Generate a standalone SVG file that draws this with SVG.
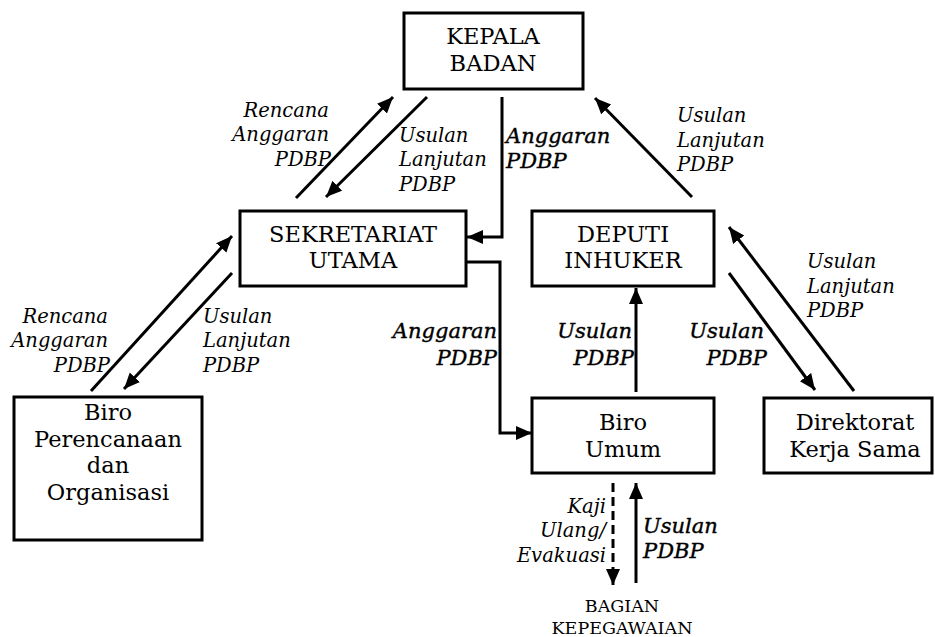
<svg xmlns="http://www.w3.org/2000/svg" width="935" height="637" viewBox="0 0 935 637">
<style>
.box{fill:#fff;stroke:#000;stroke-width:3}
.nt{font-family:"DejaVu Serif","Liberation Serif",serif;font-size:22.5px;fill:#000;text-anchor:middle}
.lb{font-family:"DejaVu Serif","Liberation Serif",serif;font-size:19.5px;font-style:italic;fill:#000}
.bl{font-family:"DejaVu Serif","Liberation Serif",serif;font-size:21px;font-style:italic;fill:#000;stroke:#000;stroke-width:0.4}
.sm{font-family:"DejaVu Serif","Liberation Serif",serif;font-size:17.5px;fill:#000;text-anchor:middle}
.ln{fill:none;stroke:#000;stroke-width:3}
.ds{fill:none;stroke:#000;stroke-width:3;stroke-dasharray:9 5}
.r{text-anchor:end}
</style>
<defs>
<marker id="ah" markerUnits="userSpaceOnUse" markerWidth="18" markerHeight="16" refX="16" refY="7" orient="auto">
<path d="M0,0 L16,7 L0,14 Z" fill="#000"/>
</marker>
</defs>
<rect width="935" height="637" fill="#fff"/>
<g id="kepala">
<rect class="box" x="404" y="13" width="179" height="76"/>
<text class="nt" x="493" y="44">KEPALA</text>
<text class="nt" x="493" y="71">BADAN</text>
</g>
<g id="sekretariat">
<rect class="box" x="240" y="211" width="226" height="75"/>
<text class="nt" x="353" y="242">SEKRETARIAT</text>
<text class="nt" x="353" y="268">UTAMA</text>
</g>
<g id="deputi">
<rect class="box" x="532" y="211" width="182" height="75"/>
<text class="nt" x="623" y="242">DEPUTI</text>
<text class="nt" x="623" y="268">INHUKER</text>
</g>
<g id="biro-umum">
<rect class="box" x="532" y="398" width="182" height="75"/>
<text class="nt" x="623" y="430">Biro</text>
<text class="nt" x="623" y="457">Umum</text>
</g>
<g id="direktorat">
<rect class="box" x="764" y="398" width="168" height="75"/>
<text class="nt" x="855" y="430">Direktorat</text>
<text class="nt" x="855" y="457">Kerja Sama</text>
</g>
<g id="biro-perencanaan">
<rect class="box" x="14" y="397" width="188" height="143"/>
<text class="nt" x="108" y="420">Biro</text>
<text class="nt" x="108" y="447">Perencanaan</text>
<text class="nt" x="108" y="473">dan</text>
<text class="nt" x="108" y="500">Organisasi</text>
</g>
<g id="bagian-kepegawaian">
<text class="sm" x="622" y="612">BAGIAN</text>
<text class="sm" x="622" y="634">KEPEGAWAIAN</text>
</g>
<g id="connectors">
<line class="ln" x1="296" y1="198" x2="393" y2="97" marker-end="url(#ah)"/>
<line class="ln" x1="427" y1="97" x2="326" y2="197" marker-end="url(#ah)"/>
<polyline class="ln" points="502,97 502,237 467,237" marker-end="url(#ah)"/>
<polyline class="ln" points="466,262 500,262 500,433 532,433" marker-end="url(#ah)"/>
<line class="ln" x1="91" y1="391" x2="232" y2="236" marker-end="url(#ah)"/>
<line class="ln" x1="232" y1="273" x2="124" y2="389" marker-end="url(#ah)"/>
<line class="ln" x1="692" y1="197" x2="595" y2="98" marker-end="url(#ah)"/>
<line class="ln" x1="636" y1="392" x2="636" y2="288" marker-end="url(#ah)"/>
<line class="ln" x1="729" y1="273" x2="815" y2="390" marker-end="url(#ah)"/>
<line class="ln" x1="854" y1="391" x2="729" y2="227" marker-end="url(#ah)"/>
<line class="ds" x1="613" y1="483" x2="613" y2="585" marker-end="url(#ah)"/>
<line class="ln" x1="636" y1="583" x2="636" y2="483" marker-end="url(#ah)"/>
</g>
<g id="labels">
<text class="lb r" x="329" y="117">Rencana</text>
<text class="lb r" x="329" y="141">Anggaran</text>
<text class="lb r" x="331" y="166">PDBP</text>
<text class="lb" x="399" y="142">Usulan</text>
<text class="lb" x="399" y="166">Lanjutan</text>
<text class="lb" x="399" y="191">PDBP</text>
<text class="bl" x="506" y="143">Anggaran</text>
<text class="bl" x="506" y="168">PDBP</text>
<text class="lb r" x="108" y="323">Rencana</text>
<text class="lb r" x="108" y="347">Anggaran</text>
<text class="lb r" x="110" y="372">PDBP</text>
<text class="lb" x="203" y="323">Usulan</text>
<text class="lb" x="203" y="347">Lanjutan</text>
<text class="lb" x="203" y="372">PDBP</text>
<text class="bl r" x="497" y="338">Anggaran</text>
<text class="bl r" x="497" y="365">PDBP</text>
<text class="lb" x="677" y="122">Usulan</text>
<text class="lb" x="677" y="147">Lanjutan</text>
<text class="lb" x="677" y="171">PDBP</text>
<text class="bl r" x="632" y="338">Usulan</text>
<text class="bl r" x="634" y="365">PDBP</text>
<text class="bl r" x="764" y="338">Usulan</text>
<text class="bl r" x="767" y="365">PDBP</text>
<text class="lb" x="807" y="268">Usulan</text>
<text class="lb" x="807" y="293">Lanjutan</text>
<text class="lb" x="807" y="317">PDBP</text>
<text class="lb r" x="606" y="513">Kaji</text>
<text class="lb r" x="606" y="537">Ulang/</text>
<text class="lb r" x="606" y="562">Evakuasi</text>
<text class="bl" x="643" y="533">Usulan</text>
<text class="bl" x="643" y="558">PDBP</text>
</g>
</svg>
